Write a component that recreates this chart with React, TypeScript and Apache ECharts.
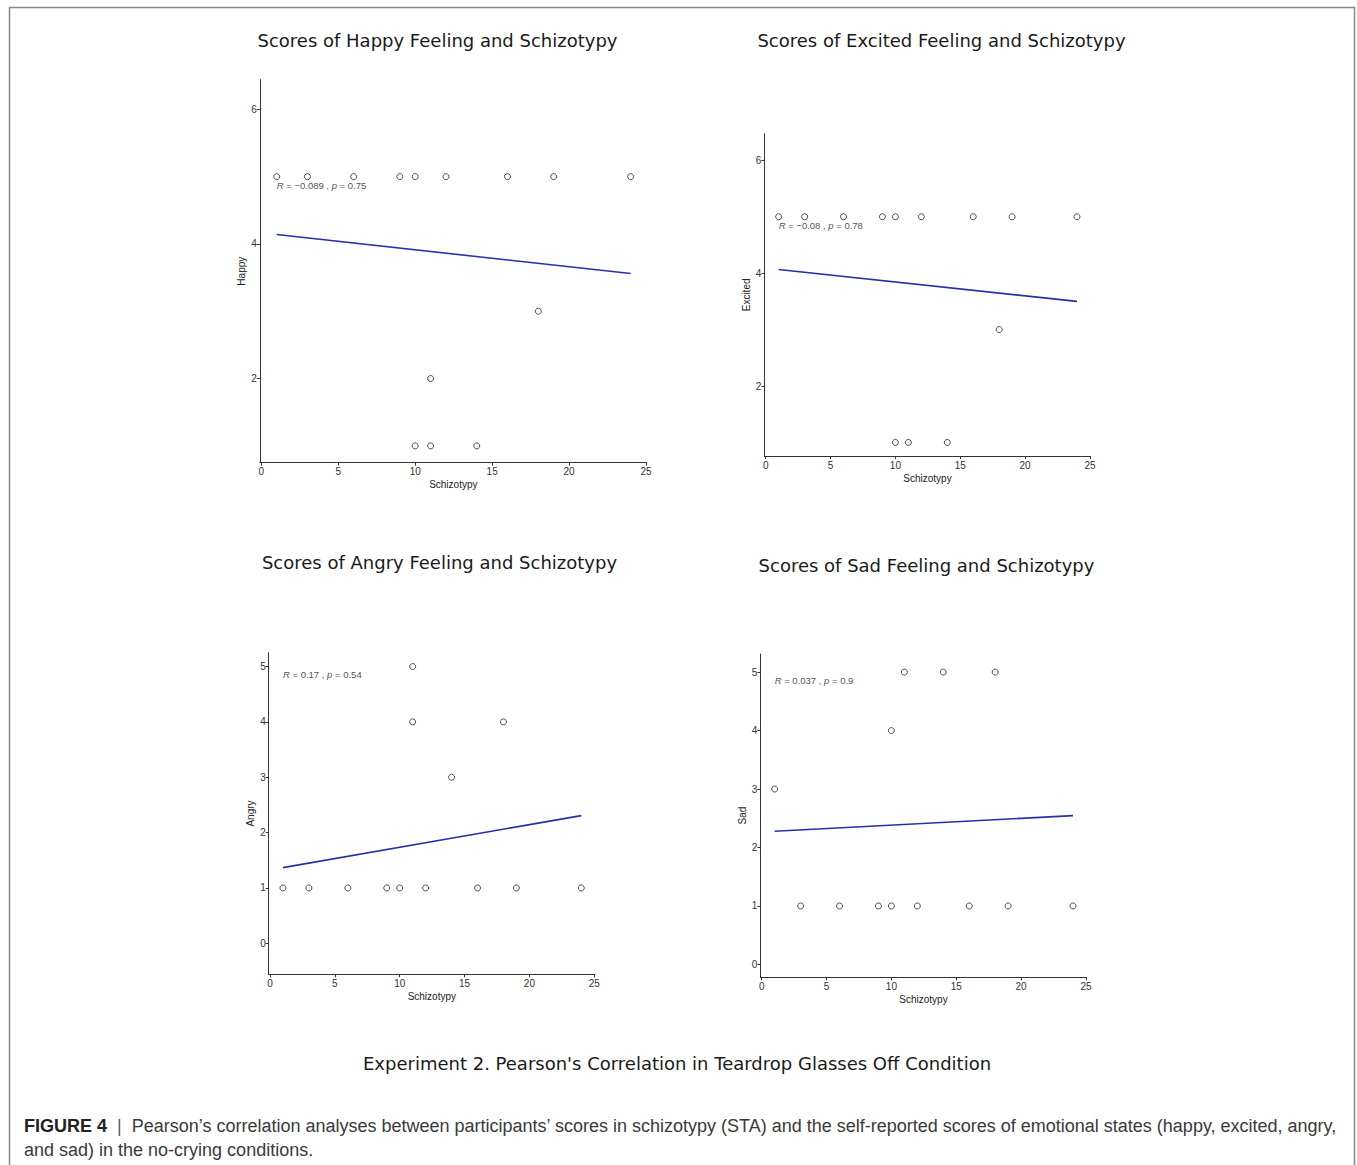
import React, { useEffect, useRef } from "react";
import * as echarts from "echarts";

// Schizotypy (STA) scores and self-reported emotional states per participant
const schizHappy = [1, 3, 6, 9, 10, 12, 16, 19, 24, 18, 11, 10, 11, 14];
const happy = [5, 5, 5, 5, 5, 5, 5, 5, 5, 3, 2, 1, 1, 1];

const schizExcited = [1, 3, 6, 9, 10, 12, 16, 19, 24, 18, 10, 11, 14];
const excited = [5, 5, 5, 5, 5, 5, 5, 5, 5, 3, 1, 1, 1];

const schizAngry = [1, 3, 6, 9, 10, 12, 16, 19, 24, 11, 11, 18, 14];
const angry = [1, 1, 1, 1, 1, 1, 1, 1, 1, 5, 4, 4, 3];

const schizSad = [3, 6, 9, 10, 12, 16, 19, 24, 1, 10, 11, 14, 18];
const sad = [1, 1, 1, 1, 1, 1, 1, 1, 3, 4, 5, 5, 5];

// Fitted regression line end points (x = min and max schizotypy)
const fitHappy = [[1, 4.14], [24, 3.56]];
const fitExcited = [[1, 4.065], [24, 3.5]];
const fitAngry = [[1, 1.367], [24, 2.307]];
const fitSad = [[1, 2.277], [24, 2.545]];

// Correlation statistics
const corrR = ["\u22120.089", "\u22120.08", "0.17", "0.037"];
const corrP = ["0.75", "0.78", "0.54", "0.9"];
const corrLabelPos = [[1, 4.87], [1, 4.85], [1, 4.85], [1, 4.85]];

const xTicks = [0, 5, 10, 15, 20, 25];
const yTicksHappy = [2, 4, 6];
const yTicksExcited = [2, 4, 6];
const yTicksAngry = [0, 1, 2, 3, 4, 5];
const yTicksSad = [0, 1, 2, 3, 4, 5];

const yNames = ["Happy", "Excited", "Angry", "Sad"];
const panelTitles = [
  "Scores of Happy Feeling and Schizotypy",
  "Scores of Excited Feeling and Schizotypy",
  "Scores of Angry Feeling and Schizotypy",
  "Scores of Sad Feeling and Schizotypy",
];
const figureTitle = "Experiment 2. Pearson's Correlation in Teardrop Glasses Off Condition";
const captionLine1 =
  "Pearson\u2019s correlation analyses between participants\u2019 scores in schizotypy (STA) and the self-reported scores of emotional states (happy, excited, angry,";
const captionLine2 = "and sad) in the no-crying conditions.";

const zip = (xs: number[], ys: number[]) => xs.map((x, i) => [x, ys[i]]);

const AXIS_FONT = "'Liberation Sans', Arial, sans-serif";
const TITLE_FONT = "'DejaVu Sans', Verdana, sans-serif";

export default function App() {
  const ref = useRef<HTMLDivElement>(null);

  useEffect(() => {
    if (!ref.current) return;
    const chart = echarts.init(ref.current, undefined, { renderer: "svg" });

    const grids = [
      { left: 259.8, top: 79.7, width: 387, height: 383 },
      { left: 764.4, top: 133.8, width: 326.2, height: 322.2 },
      { left: 268.7, top: 652.7, width: 326.2, height: 321.6 },
      { left: 760.4, top: 654, width: 326.2, height: 323.3 },
    ];
    const yRanges = [
      [0.75, 6.44],
      [0.76, 6.47],
      [-0.56, 5.25],
      [-0.22, 5.31],
    ];
    const yTicks = [yTicksHappy, yTicksExcited, yTicksAngry, yTicksSad];
    const points = [
      zip(schizHappy, happy),
      zip(schizExcited, excited),
      zip(schizAngry, angry),
      zip(schizSad, sad),
    ];
    const fits = [fitHappy, fitExcited, fitAngry, fitSad];

    const axisLine = { show: true, onZero: false, lineStyle: { color: "#333", width: 1 } };
    const axisTick = (vals: number[]) => ({
      show: true,
      length: 3,
      lineStyle: { color: "#333", width: 1 },
      customValues: vals,
    });
    const axisLabel = (vals: number[]) => ({
      show: true,
      margin: 3,
      fontFamily: AXIS_FONT,
      fontSize: 10,
      color: "#333",
      customValues: vals,
    });

    const xAxis = grids.map((_, i) => ({
      type: "value",
      gridIndex: i,
      min: -0.1,
      max: 25.05,
      name: "Schizotypy",
      nameLocation: "middle",
      nameGap: 17,
      nameTextStyle: { fontFamily: AXIS_FONT, fontSize: 10, color: "#222" },
      axisLine,
      axisTick: axisTick(xTicks),
      axisLabel: { ...axisLabel(xTicks), margin: 4 },
      splitLine: { show: false },
    }));

    const yAxis = grids.map((_, i) => ({
      type: "value",
      gridIndex: i,
      min: yRanges[i][0],
      max: yRanges[i][1],
      name: yNames[i],
      nameLocation: "middle",
      nameGap: 13,
      nameTextStyle: { fontFamily: AXIS_FONT, fontSize: 10, color: "#222" },
      axisLine,
      axisTick: axisTick(yTicks[i]),
      axisLabel: axisLabel(yTicks[i]),
      splitLine: { show: false },
    }));

    const series: any[] = [];
    grids.forEach((_, i) => {
      series.push({
        type: "line",
        xAxisIndex: i,
        yAxisIndex: i,
        data: fits[i],
        symbol: "none",
        lineStyle: { color: "#2630a8", width: 1.6 },
        z: 2,
      });
      series.push({
        type: "scatter",
        xAxisIndex: i,
        yAxisIndex: i,
        data: points[i],
        symbol: "circle",
        symbolSize: 6,
        itemStyle: { color: "#fff", borderColor: "#222", borderWidth: 1 },
        z: 3,
      });
      series.push({
        type: "scatter",
        xAxisIndex: i,
        yAxisIndex: i,
        data: [corrLabelPos[i]],
        symbolSize: 0,
        silent: true,
        z: 4,
        label: {
          show: true,
          position: "right",
          distance: 0,
          formatter: `{i|R}{n| = ${corrR[i]} , }{i|p}{n| = ${corrP[i]}}`,
          rich: {
            i: { fontFamily: AXIS_FONT, fontSize: 9.5, fontStyle: "italic", color: "#222" },
            n: { fontFamily: AXIS_FONT, fontSize: 9.5, color: "#222" },
          },
        },
      });
    });

    const titleStyle = {
      fontFamily: TITLE_FONT,
      fontSize: 18,
      fill: "#1a1a1a",
      textAlign: "center",
      textVerticalAlign: "middle",
    };
    const titlePos = [
      [437.5, 40],
      [941.5, 40],
      [439.5, 562],
      [926.5, 565],
    ];

    const graphic: any[] = [
      {
        type: "rect",
        shape: { x: 9.5, y: 7.5, width: 1345, height: 1180 },
        style: { fill: "none", stroke: "#8a8a8a", lineWidth: 1.5 },
        silent: true,
      },
      ...panelTitles.map((t, i) => ({
        type: "text",
        x: titlePos[i][0],
        y: titlePos[i][1],
        style: { ...titleStyle, text: t },
      })),
      {
        type: "text",
        x: 677,
        y: 1063,
        style: { ...titleStyle, fontSize: 18, text: figureTitle },
      },
      {
        type: "text",
        x: 24,
        y: 1126,
        style: {
          text: `{b|FIGURE 4}{s|  |  }{n|${captionLine1}}`,
          textVerticalAlign: "middle",
          rich: {
            b: { fontFamily: AXIS_FONT, fontSize: 18, fontWeight: "bold", fill: "#222" },
            s: { fontFamily: AXIS_FONT, fontSize: 18, fill: "#555" },
            n: { fontFamily: AXIS_FONT, fontSize: 18, fill: "#3a3a3a" },
          },
        },
      },
      {
        type: "text",
        x: 24,
        y: 1150,
        style: {
          text: captionLine2,
          fontFamily: AXIS_FONT,
          fontSize: 18,
          fill: "#3a3a3a",
          textVerticalAlign: "middle",
        },
      },
    ];

    chart.setOption({
      animation: false,
      backgroundColor: "#fff",
      grid: grids.map((g) => ({ ...g, containLabel: false })),
      xAxis,
      yAxis,
      series,
      graphic,
    });

    return () => chart.dispose();
  }, []);

  return (
    <div
      ref={ref}
      style={{ position: "absolute", left: 0, top: 0, width: 1357, height: 1165 }}
    />
  );
}
